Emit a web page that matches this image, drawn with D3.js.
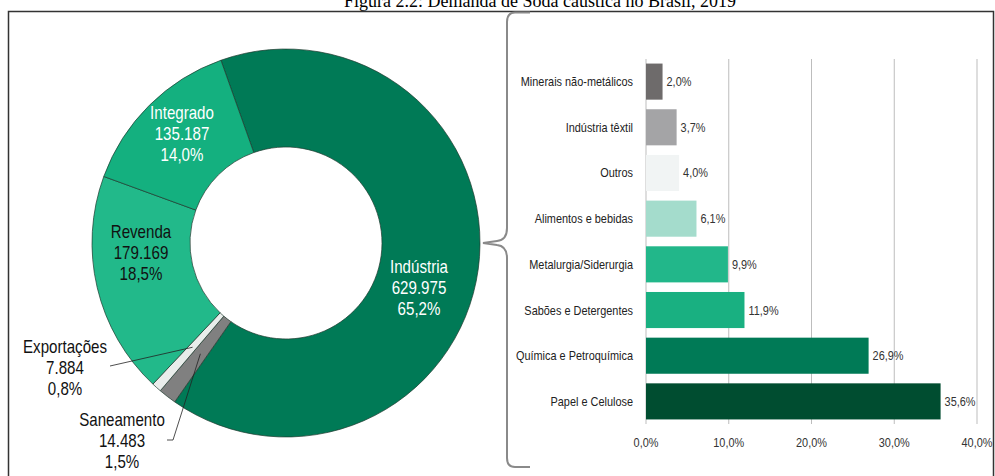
<!DOCTYPE html>
<html>
<head>
<meta charset="utf-8">
<script src="https://cdn.jsdelivr.net/npm/d3@7"></script>
<style>
  html, body { margin: 0; padding: 0; background: #fff; }
  svg { display: block; }
  .narrow { font-family: "Liberation Sans", Arial, sans-serif; }
</style>
</head>
<body>
<svg id="chart" width="995" height="476"></svg>
<script>
// Demanda de soda cáustica por segmento (toneladas)
const segments = ["Indústria", "Saneamento", "Exportações", "Revenda", "Integrado"];
const segmentValues = [629975, 14483, 7884, 179169, 135187];
const segmentPercents = ["65,2%", "1,5%", "0,8%", "18,5%", "14,0%"];
const segmentLabels = ["629.975", "14.483", "7.884", "179.169", "135.187"];
const segmentColors = ["#007a56", "#808080", "#e9edeb", "#22b98a", "#14b07f"];

// Distribuição da demanda industrial por setor (%)
const sectors = ["Minerais não-metálicos", "Indústria têxtil", "Outros", "Alimentos e bebidas",
                 "Metalurgia/Siderurgia", "Sabões e Detergentes", "Química e Petroquímica", "Papel e Celulose"];
const sectorValues = [2.0, 3.7, 4.0, 6.1, 9.9, 11.9, 26.9, 35.6];
const sectorColors = ["#6e6b6b", "#a4a4a6", "#f1f4f4", "#a4dccc", "#22b78a", "#19b081", "#007a56", "#004d30"];
const xTicks = [0, 10, 20, 30, 40];

const svg = d3.select("#chart");
const fmtPct = v => v.toFixed(1).replace(".", ",") + "%";

// Texto condensado: escala horizontal aplicada a partir do ponto de ancoragem
function narrow(parent, x, y, anchor, size, color, lines, lineH) {
  const g = parent.append("g").attr("transform", `translate(${x},${y}) scale(0.84,1)`);
  const t = g.append("text").attr("class", "narrow")
    .attr("text-anchor", anchor)
    .style("font-size", size + "px")
    .attr("fill", color);
  lines.forEach((line, k) => {
    t.append("tspan").attr("x", 0).attr("y", k * (lineH || 0)).text(line);
  });
  return t;
}

// Título
svg.append("text")
  .attr("x", 540).attr("y", 7)
  .attr("text-anchor", "middle")
  .style("font-family", "'Liberation Serif', 'Times New Roman', serif")
  .style("font-size", "18px")
  .attr("fill", "#000")
  .text("Figura 2.2: Demanda de Soda cáustica no Brasil, 2019");

// Moldura
svg.append("path")
  .attr("d", "M8.5,476 V11.5 H993.5 V476")
  .attr("fill", "none").attr("stroke", "#333").attr("stroke-width", 1.5);

// ---------- Rosca ----------
const cx = 286, cy = 243, rOuter = 194, rInner = 96;
const start = -19.6 * Math.PI / 180;
const pie = d3.pie().sort(null).startAngle(start).endAngle(start + 2 * Math.PI);
const arcs = pie(segmentValues);
const arc = d3.arc().innerRadius(rInner).outerRadius(rOuter);

const g = svg.append("g").attr("transform", `translate(${cx},${cy})`);
g.selectAll("path.slice").data(arcs).join("path")
  .attr("class", "slice")
  .attr("d", arc)
  .attr("fill", (d, i) => segmentColors[i])
  .attr("stroke", "#1e3a2e").attr("stroke-width", 0.7);

// Rótulos da rosca
const labelSpecs = [
  { i: 0, x: 419, y: 273, color: "#fff" },
  { i: 3, x: 141, y: 238, color: "#111" },
  { i: 4, x: 182, y: 119, color: "#fff" },
  { i: 2, x: 65, y: 353, color: "#111" },
  { i: 1, x: 122, y: 426, color: "#111" }
];
labelSpecs.forEach(s => {
  narrow(svg, s.x, s.y, "middle", 18, s.color,
    [segments[s.i], segmentLabels[s.i], segmentPercents[s.i]], 21);
});

// Linhas de chamada para as fatias pequenas
const midPoint = (d, r) => {
  const a = (d.startAngle + d.endAngle) / 2;
  return [cx + r * Math.sin(a), cy - r * Math.cos(a)];
};
const pExp = midPoint(arcs[2], 140);
svg.append("path")
  .attr("d", `M110,366 L${pExp[0]},${pExp[1]}`)
  .attr("fill", "none").attr("stroke", "#222").attr("stroke-width", 0.8);
const pSan = midPoint(arcs[1], 140);
svg.append("path")
  .attr("d", `M167,440 L173,440 L${pSan[0]},${pSan[1]}`)
  .attr("fill", "none").attr("stroke", "#222").attr("stroke-width", 0.8);

// Chave ligando a fatia Indústria ao detalhamento
svg.append("path")
  .attr("d", "M530,12.5 H515 Q507,12.5 507,22 V228 Q507,240 497,241 L483,243 L497,245 Q507,246 507,258 V458 Q507,467 515,467 H530")
  .attr("fill", "none").attr("stroke", "#8a8a8a").attr("stroke-width", 2);

// ---------- Barras ----------
const x = d3.scaleLinear().domain([0, 40]).range([646, 977]);
const y = d3.scaleBand().domain(sectors).range([59, 424]).paddingInner(0.21).paddingOuter(0.1);

// Grade vertical
svg.append("g").selectAll("line").data(xTicks).join("line")
  .attr("x1", d => x(d)).attr("x2", d => x(d))
  .attr("y1", 59).attr("y2", 424)
  .attr("stroke", "#bdbdbd").attr("stroke-width", 1);

// Rótulos do eixo x
xTicks.forEach(t => narrow(svg, x(t), 447, "middle", 13, "#333", [fmtPct(t)]));

svg.selectAll("rect.bar").data(sectors).join("rect")
  .attr("class", "bar")
  .attr("x", x(0))
  .attr("y", d => y(d))
  .attr("width", (d, i) => x(sectorValues[i]) - x(0))
  .attr("height", y.bandwidth())
  .attr("fill", (d, i) => sectorColors[i]);

// Rótulos das categorias e valores
sectors.forEach((s, i) => {
  const yc = y(s) + y.bandwidth() / 2 + 4.5;
  narrow(svg, 633, yc, "end", 13, "#222", [s]);
  narrow(svg, x(sectorValues[i]) + 4, yc, "start", 13, "#333", [fmtPct(sectorValues[i])]);
});
</script>
</body>
</html>
